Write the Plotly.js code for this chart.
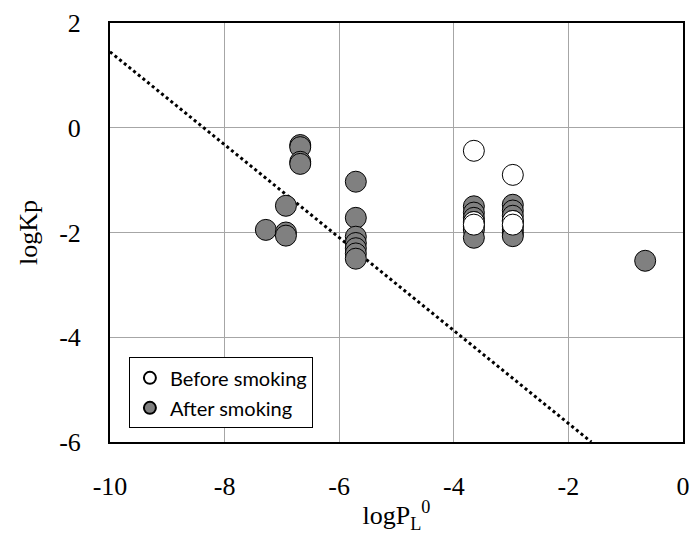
<!DOCTYPE html>
<html>
<head>
<meta charset="utf-8">
<script src="https://cdn.plot.ly/plotly-3.0.1.min.js"></script>
<style>html,body{margin:0;padding:0;background:#fff;}#chart{width:691px;height:534px;}</style>
</head>
<body>
<div id="chart"></div>
<script>
// After smoking (gray) points
const afterX = [-7.28, -6.93, -6.93, -6.93, -6.68, -6.68, -6.68, -6.68,
  -5.71, -5.71, -5.71, -5.71, -5.71, -5.71, -5.71,
  -3.65, -3.65, -3.65, -3.65, -3.65, -3.65, -3.65,
  -2.97, -2.97, -2.97, -2.97, -2.97, -2.97, -2.97, -2.97,
  -0.66];
const afterY = [-1.95, -1.49, -2.0, -2.06, -0.33, -0.37, -0.65, -0.69,
  -1.03, -1.72, -2.08, -2.2, -2.3, -2.4, -2.5,
  -1.5, -1.62, -1.72, -1.8, -1.88, -1.95, -2.1,
  -1.47, -1.58, -1.68, -1.78, -1.88, -1.95, -2.02, -2.07,
  -2.54];
// Before smoking (white) points
const beforeX = [-3.65, -3.65, -3.65, -2.97, -2.97, -2.97];
const beforeY = [-0.44, -1.8, -1.85, -0.9, -1.78, -1.85];
// Dotted reference line endpoints
const lineX = [-10, -1.6];
const lineY = [1.45, -6];
const xTicks = [-10, -8, -6, -4, -2, 0];
const yTicks = [-6, -4, -2, 0, 2];

const serif = '"Liberation Serif", "Times New Roman", serif';

const traces = [
  {x: lineX, y: lineY, mode: 'lines', type: 'scatter', showlegend: false,
   line: {color: '#000', width: 3, dash: 'dot'}, hoverinfo: 'skip'},
  {x: afterX, y: afterY, mode: 'markers', type: 'scatter', name: 'After smoking', legendrank: 2,
   legendgroup: 'a',
   marker: {size: 21, color: '#808080', line: {color: '#000', width: 1}}},
  {x: beforeX, y: beforeY, mode: 'markers', type: 'scatter', name: 'Before smoking', legendrank: 1,
   legendgroup: 'b',
   marker: {size: 21, color: '#ffffff', line: {color: '#000', width: 1}}}
];

const layout = {
  width: 691, height: 534,
  margin: {l: 110, r: 8, t: 23, b: 92},
  paper_bgcolor: '#fff', plot_bgcolor: '#fff',
  showlegend: true,
  legend: {x: 0.033, y: 0.202, xanchor: 'left', yanchor: 'top',
    bordercolor: '#000', borderwidth: 1, bgcolor: '#fff',
    itemsizing: 'constant', itemwidth: 30, tracegroupgap: 1,
    font: {family: 'Lato, "Open Sans", sans-serif', size: 20, color: '#000'}},
  xaxis: {range: [-10, 0], tickvals: xTicks, ticktext: xTicks.map(String),
    showgrid: true, gridcolor: '#a6a6a6', gridwidth: 1, zeroline: false,
    showline: true, linecolor: '#000', linewidth: 2, mirror: true,
    ticks: '', ticklabelstandoff: 20,
    tickfont: {family: serif, size: 26, color: '#000'},
    title: {text: 'logP<sub>L</sub><sup>0</sup>', standoff: 6,
      font: {family: serif, size: 26, color: '#000'}}},
  yaxis: {range: [-6, 2], tickvals: yTicks, ticktext: yTicks.map(String),
    showgrid: true, gridcolor: '#a6a6a6', gridwidth: 1, zeroline: false,
    showline: true, linecolor: '#000', linewidth: 2, mirror: true,
    ticks: '', ticklabelstandoff: 22,
    tickfont: {family: serif, size: 26, color: '#000'},
    title: {text: 'logKp', standoff: 14,
      font: {family: serif, size: 26, color: '#000'}}}
};

Plotly.newPlot('chart', traces, layout, {displayModeBar: false, staticPlot: true});
</script>
</body>
</html>
